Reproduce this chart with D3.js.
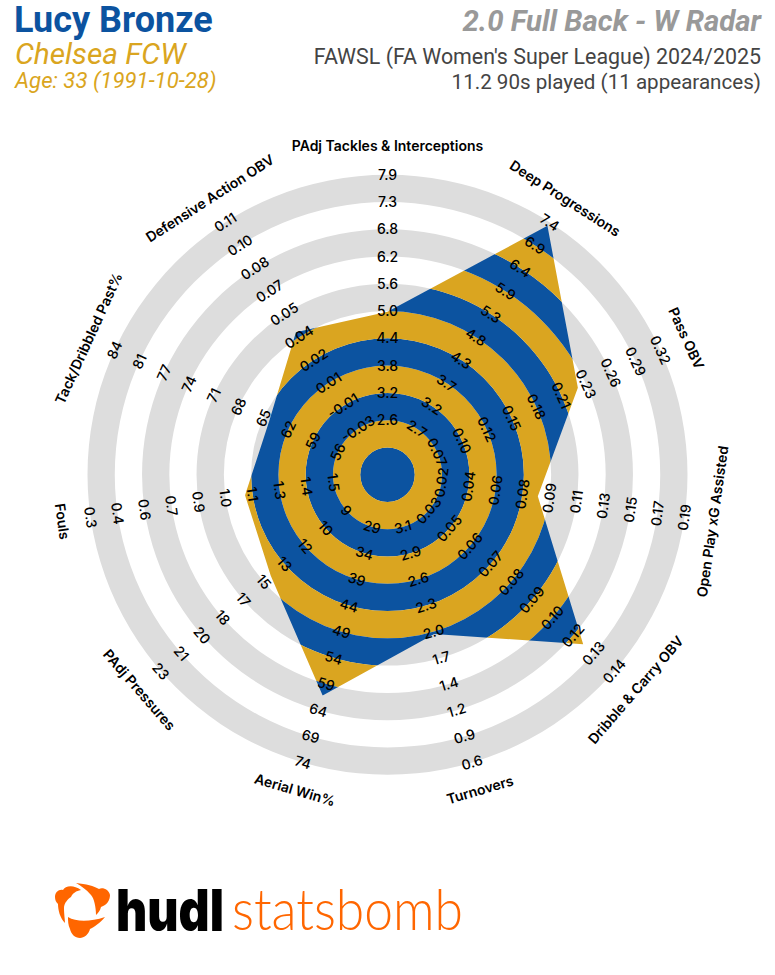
<!DOCTYPE html>
<html><head><meta charset="utf-8">
<script src="https://cdn.jsdelivr.net/npm/d3@7"></script>
<style>html,body{margin:0;padding:0;background:#fff}svg{display:block}</style>
</head><body><div id="c"></div>
<script>
const metrics = ["PAdj Tackles & Interceptions","Deep Progressions","Pass OBV","Open Play xG Assisted","Dribble & Carry OBV","Turnovers","Aerial Win%","PAdj Pressures","Fouls","Tack/Dribbled Past%","Defensive Action OBV"];
const tickLabels = [
 ["2.6","3.2","3.8","4.4","5.0","5.6","6.2","6.8","7.3","7.9"],
 ["2.7","3.2","3.7","4.3","4.8","5.3","5.9","6.4","6.9","7.4"],
 ["0.07","0.10","0.12","0.15","0.18","0.21","0.23","0.26","0.29","0.32"],
 ["0.02","0.04","0.06","0.08","0.09","0.11","0.13","0.15","0.17","0.19"],
 ["0.03","0.05","0.06","0.07","0.08","0.09","0.10","0.12","0.13","0.14"],
 ["3.1","2.9","2.6","2.3","2.0","1.7","1.4","1.2","0.9","0.6"],
 ["29","34","39","44","49","54","59","64","69","74"],
 ["9","10","12","13","15","17","18","20","21","23"],
 ["1.5","1.4","1.3","1.1","1.0","0.9","0.7","0.6","0.4","0.3"],
 ["56","59","62","65","68","71","74","77","81","84"],
 ["-0.03","-0.01","0.01","0.02","0.04","0.05","0.07","0.08","0.10","0.11"]
];
const playerValues = [4.94,7.32,0.2276,0.0874,0.1216,1.964,61.2,14.7,1.063,64.6,0.0355];

const W=775,H=975,cx=387.5,cy=474.7,R=300,rings=11;
const BLUE="#0C53A0",GOLD="#DAA520",GREY="#DDDDDD";
const svg=d3.select("#c").append("svg").attr("width",W).attr("height",H).attr("viewBox",[0,0,W,H]);
const ringR=d3.scaleLinear().domain([0,rings]).range([0,R]);
const angleOf=d3.scaleLinear().domain([0,metrics.length]).range([0,2*Math.PI]);
const axisScales=tickLabels.map(t=>d3.scaleLinear().domain([+t[0],+t[t.length-1]]).range([ringR(2),ringR(rings)]));
const arc=d3.arc();
const bands=d3.range(rings);
const chart=svg.append("g").attr("transform",`translate(${cx},${cy})`);

chart.selectAll("path.bg").data(bands.filter(k=>k%2==0)).join("path").attr("class","bg")
 .attr("fill",GREY)
 .attr("d",k=>arc({innerRadius:ringR(k),outerRadius:ringR(k+1),startAngle:0,endAngle:2*Math.PI}));

const radial=d3.lineRadial().curve(d3.curveLinearClosed)
 .angle((d,i)=>angleOf(i)).radius((d,i)=>axisScales[i](d));
svg.append("defs").append("clipPath").attr("id","poly").append("path").attr("d",radial(playerValues));
chart.append("g").attr("clip-path","url(#poly)")
 .selectAll("path").data(bands).join("path")
 .attr("fill",k=>k%2==0?BLUE:GOLD)
 .attr("d",k=>arc({innerRadius:ringR(k),outerRadius:ringR(k+1),startAngle:0,endAngle:2*Math.PI}));

function rot(a){let deg=a*180/Math.PI;return (deg>90&&deg<270)?deg-180:deg;}
function place(sel,a,r){
 const x=r*Math.sin(a),y=-r*Math.cos(a);
 sel.attr("transform",`translate(${x},${y}) rotate(${rot(a)})`);
}
tickLabels.forEach((ts,i)=>{
 const a=angleOf(i);
 ts.forEach((t,j)=>{
  chart.append("text").text(t).attr("text-anchor","middle").attr("dy","0.36em")
   .attr("font-family","Inter").attr("font-size",14).attr("font-weight",550).attr("fill","#000")
   .call(place,a,ringR(j+2));
 });
});
metrics.forEach((m,i)=>{
 chart.append("text").text(m).attr("text-anchor","middle").attr("dy","0.36em")
  .attr("font-family","Inter").attr("font-size",14).attr("font-weight",600).attr("fill","#000")
  .call(place,angleOf(i),328.5);
});

function T(x,y,s,size,col,opt={}){
 return svg.append("text").text(s).attr("x",x).attr("y",y).attr("font-family",opt.f||"Roboto")
  .attr("font-size",size).attr("fill",col).attr("font-weight",opt.w||400)
  .attr("font-style",opt.i?"italic":"normal").attr("text-anchor",opt.a||"start");
}
T(14,32,"Lucy Bronze",36,BLUE,{w:700});
T(15,64,"Chelsea FCW",29.8,GOLD,{i:true});
T(15,88,"Age: 33 (1991-10-28)",22.2,GOLD,{i:true});
T(761,31,"2.0 Full Back - W Radar",29.4,"#999999",{w:700,i:true,a:"end"});
T(761,64,"FAWSL (FA Women's Super League) 2024/2025",21.4,"#444444",{a:"end"});
T(761,89,"11.2 90s played (11 appearances)",20.6,"#444444",{a:"end"});

const ORANGE="#FF6600";
const icon=svg.append("g").attr("transform","translate(82,910)").attr("fill",ORANGE);
["M-27,-13 C-27,-18 -23,-21 -19,-20 C-17,-24 -9,-26 -1,-20 C-6,-19 -9,-17 -11,-13 C-14,-11 -18,-7 -18,-2 C-18,4 -17,10 -17,13 C-22,8 -24,0 -24,-6 C-26,-8 -27,-10 -27,-13 Z",
 "M-6,-27 C4,-26 12,-24 17,-21 C21,-23 27,-20 28,-15 C28,-10 25,-5 19,-3 C18,1 16,3 14,5 C14,-3 12,-12 9,-15 C4,-21 -1,-24 -6,-27 Z",
 "M-14,7 C-6,12 8,12 23,7 C18,13 12,17 8,19 C7,24 2,28 -2,28 C-7,28 -11,24 -12,19 C-14,15 -14,11 -14,7 Z"
].forEach(d=>icon.append("path").attr("d",d));
svg.append("text").text("hudl").attr("x",116).attr("y",931).attr("font-family","Inter").attr("font-weight",900)
 .attr("font-size",58).attr("fill","#000").attr("textLength",108).attr("lengthAdjust","spacingAndGlyphs");
svg.append("text").text("statsbomb").attr("x",232).attr("y",930).attr("font-family","Lato").attr("font-weight",300)
 .attr("font-size",58).attr("fill",ORANGE).attr("textLength",231).attr("lengthAdjust","spacingAndGlyphs");
</script></body></html>
